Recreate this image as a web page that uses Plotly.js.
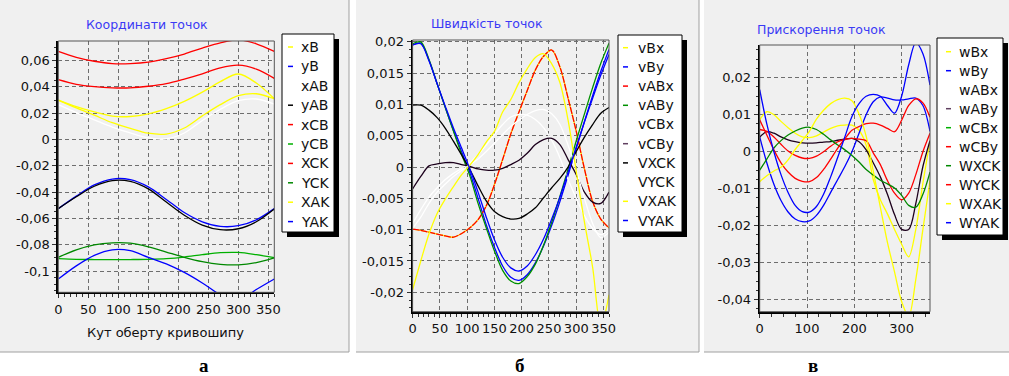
<!DOCTYPE html>
<html><head><meta charset="utf-8">
<script src="https://cdn.plot.ly/plotly-3.0.1.min.js"></script>
<style>html,body{margin:0;padding:0;background:#fff;} #chart{width:1009px;height:376px;}</style>
</head><body><div id="chart"></div>
<script>
// ---------- DATA ----------
const angA = [0,30,60,90,120,150,180,210,240,270,300,330,360];
const angBC = [0,15,30,45,60,75,90,105,120,135,150,165,180,195,210,225,240,255,270,285,300,315,330,345,360];

// Panel а: coordinates
const xB  = [0.030,0.024,0.0185,0.0128,0.0085,0.0048,0.0042,0.0088,0.018,0.0265,0.0333,0.0348,0.031];
const yB  = [-0.0525,-0.043,-0.0345,-0.0300,-0.0305,-0.036,-0.0455,-0.0555,-0.0625,-0.066,-0.0655,-0.061,-0.0525];
const xAB = [0.0265,0.0205,0.015,0.0095,0.005,0.0012,0.0006,0.005,0.0145,0.023,0.0295,0.0308,0.027];
const yAB = [-0.0525,-0.0435,-0.0355,-0.0312,-0.0318,-0.0375,-0.0475,-0.0575,-0.065,-0.0685,-0.0678,-0.0625,-0.0528];
const xCB = [0.0455,0.042,0.0402,0.0393,0.0393,0.0405,0.0425,0.046,0.050,0.0545,0.0565,0.0535,0.0465];
const yCB = [-0.0905,-0.0910,-0.0912,-0.0913,-0.0912,-0.0910,-0.0905,-0.0893,-0.0875,-0.0860,-0.0858,-0.0875,-0.0898];
const XCK = [0.067,0.0625,0.0595,0.0577,0.0577,0.0588,0.0615,0.065,0.0695,0.0735,0.0758,0.0728,0.067];
const YCK = [-0.0895,-0.0838,-0.0800,-0.0785,-0.0788,-0.0815,-0.0855,-0.0895,-0.0928,-0.0948,-0.0952,-0.0935,-0.0900];
const XAK = [0.030,0.025,0.021,0.0178,0.0175,0.0195,0.0235,0.029,0.036,0.044,0.0498,0.043,0.031];
const YAK = [-0.106,-0.096,-0.088,-0.0838,-0.0845,-0.0895,-0.0945,-0.101,-0.109,-0.118,-0.1225,-0.114,-0.106];

// Panel б: velocities
const vBx  = [-0.0099,-0.0101,-0.0104,-0.0107,-0.0110,-0.0112,-0.0106,-0.0097,-0.0084,-0.0062,-0.0028,0.0012,0.0053,0.0088,0.0122,0.0155,0.0177,0.0187,0.0160,0.0110,0.0057,-0.0003,-0.0055,-0.0083,-0.0097];
const vBy  = [0.0195,0.0198,0.0171,0.0133,0.0095,0.0058,0.0024,-0.0009,-0.0050,-0.0092,-0.0128,-0.0158,-0.0176,-0.0181,-0.0172,-0.0153,-0.0126,-0.0093,-0.0055,-0.0013,0.0030,0.0073,0.0114,0.0153,0.0188];
const vABx = [-0.0099,-0.0101,-0.0104,-0.0107,-0.0110,-0.0112,-0.0106,-0.0097,-0.0084,-0.0062,-0.0028,0.0012,0.0053,0.0088,0.0122,0.0155,0.0177,0.0187,0.0160,0.0110,0.0057,-0.0003,-0.0055,-0.0083,-0.0097];
const vABy = [0.0197,0.0200,0.0172,0.0133,0.0095,0.0057,0.0020,-0.0014,-0.0058,-0.0097,-0.0134,-0.0165,-0.0182,-0.0186,-0.0175,-0.0155,-0.0125,-0.0088,-0.0047,-0.0003,0.0042,0.0085,0.0127,0.0166,0.0198];
const vCBx = [-0.0090,-0.0068,-0.0048,-0.0033,-0.0020,-0.0010,-0.0002,0.0007,0.0020,0.0035,0.0052,0.0068,0.0080,0.0084,0.0083,0.0076,0.0063,0.0043,0.0015,-0.0020,-0.0050,-0.0078,-0.0098,-0.0108,-0.0100];
const vCBy = [-0.0035,-0.0015,0.0002,0.0005,0.0007,0.0007,0.0004,0.0001,-0.0003,-0.0005,-0.0005,-0.0002,0.0004,0.0011,0.0022,0.0036,0.0044,0.0046,0.0036,0.0012,-0.0012,-0.0040,-0.0056,-0.0058,-0.0040];
const VXCK = [0.0099,0.0099,0.0091,0.0079,0.0062,0.0041,0.0019,-0.0004,-0.0030,-0.0054,-0.0071,-0.0079,-0.0083,-0.0082,-0.0075,-0.0065,-0.0049,-0.0033,-0.0018,0.0000,0.0025,0.0048,0.0068,0.0086,0.0095];
const VYCK = [-0.0098,-0.0080,-0.0058,-0.0040,-0.0027,-0.0015,-0.0005,0.0004,0.0013,0.0025,0.0038,0.0052,0.0065,0.0075,0.0084,0.0090,0.0092,0.0085,0.0068,0.0035,-0.0005,-0.0050,-0.0090,-0.0113,-0.0104];
const VXAK = [-0.0196,-0.0150,-0.0107,-0.0074,-0.0051,-0.0031,-0.0012,0.0003,0.0020,0.0040,0.0057,0.0088,0.0108,0.0135,0.0157,0.0175,0.0181,0.0165,0.0135,0.0075,-0.0007,-0.0088,-0.0160,-0.0255,-0.0204];
const VYAK = [0.0195,0.0197,0.0170,0.0133,0.0097,0.0062,0.0030,-0.0003,-0.0040,-0.0080,-0.0116,-0.0144,-0.0161,-0.0166,-0.0158,-0.0140,-0.0115,-0.0083,-0.0048,-0.0008,0.0032,0.0072,0.0110,0.0147,0.0180];

// Panel в: accelerations
const wBx  = [0.0086,0.0108,0.0100,0.0082,0.0065,0.0050,0.0040,0.0038,0.0043,0.0053,0.0063,0.0070,0.0072,0.0072,0.0058,0.0018,-0.0075,-0.0130,-0.0168,-0.0210,-0.0250,-0.0284,-0.0210,-0.0085,0.0030];
const wBy  = [0.0040,-0.0030,-0.0088,-0.0132,-0.0163,-0.0182,-0.0189,-0.0187,-0.0172,-0.0145,-0.0110,-0.0075,-0.0040,0.0000,0.0050,0.0100,0.0135,0.0148,0.0145,0.0140,0.0140,0.0143,0.0145,0.0125,0.0055];
const wABx = [];
const wABy = [0.0040,0.0054,0.0050,0.0040,0.0032,0.0027,0.0024,0.0023,0.0024,0.0026,0.0027,0.0031,0.0034,0.0036,0.0027,0.0005,-0.0030,-0.0068,-0.0115,-0.0170,-0.0210,-0.0210,-0.0140,-0.0040,0.0030];
const wCBx = [];
const wCBy = [0.0060,0.0055,0.0040,0.0020,0.0002,-0.0010,-0.0017,-0.0018,-0.0012,0.0000,0.0015,0.0027,0.0033,0.0036,0.0034,0.0030,-0.0003,-0.0035,-0.0078,-0.0112,-0.0130,-0.0112,-0.0062,0.0000,0.0050];
const WXCK = [-0.0050,-0.0020,0.0010,0.0030,0.0045,0.0056,0.0064,0.0066,0.0060,0.0047,0.0032,0.0018,0.0005,-0.0010,-0.0028,-0.0048,-0.0063,-0.0077,-0.0087,-0.0098,-0.0118,-0.0145,-0.0150,-0.0115,-0.0055];
const WYCK = [0.0086,0.0045,0.0005,-0.0030,-0.0055,-0.0072,-0.0080,-0.0081,-0.0070,-0.0048,-0.0020,0.0010,0.0035,0.0058,0.0068,0.0076,0.0077,0.0072,0.0063,0.0054,0.0085,0.0125,0.0143,0.0132,0.0093];
const WXAK = [-0.0081,-0.0065,-0.0052,-0.0042,-0.0022,0.0006,0.0030,0.0055,0.0088,0.0112,0.0130,0.0141,0.0145,0.0138,0.0102,0.0042,-0.0052,-0.0150,-0.0245,-0.0325,-0.0405,-0.0445,-0.0345,-0.0210,-0.0078];
const WYAK = [0.0168,0.0075,0.0000,-0.0062,-0.0110,-0.0145,-0.0162,-0.0163,-0.0148,-0.0115,-0.0068,-0.0015,0.0040,0.0095,0.0130,0.0150,0.0155,0.0150,0.0125,0.0104,0.0150,0.0235,0.0295,0.0265,0.0180];

// Tick labels
const xTicksAB = [0,50,100,150,200,250,300,350];
const xLabelsAB = ['0','50','100','150','200','250','300','350'];
const xTicksC = [0,100,200,300];
const xLabelsC = ['0','100','200','300'];
const yTicksA = [0.06,0.04,0.02,0,-0.02,-0.04,-0.06,-0.08,-0.1];
const yLabelsA = ['0,06','0,04','0,02','0','-0,02','-0,04','-0,06','-0,08','-0,1'];
const yTicksB = [0.02,0.015,0.01,0.005,0,-0.005,-0.01,-0.015,-0.02];
const yLabelsB = ['0,02','0,015','0,01','0,005','0','-0,005','-0,01','-0,015','-0,02'];
const yTicksC = [0.02,0.01,0,-0.01,-0.02,-0.03,-0.04];
const yLabelsC = ['0,02','0,01','0','-0,01','-0,02','-0,03','-0,04'];

// Texts
const titleA = 'Координати точок';
const titleB = 'Швидкість точок';
const titleC = 'Прискорення точок';
const xTitleA = 'Кут оберту кривошипу';
const panelLetters = ['а','б','в'];

// ---------- STYLE ----------
const YEL='#ffff00', BLU='#0000ff', WHT='#ffffff', BLK='#000000', RED='#ff0000',
      GRN='#00b000', DGRN='#008800', PUR='#1c001c';
const FONT = 'DejaVu Sans, Verdana, sans-serif';

const seriesA = [
  {name:'xB', y:xB, color:YEL}, {name:'yB', y:yB, color:BLU}, {name:'xAB', y:xAB, color:WHT},
  {name:'yAB', y:yAB, color:BLK}, {name:'xCB', y:xCB, color:RED}, {name:'yCB', y:yCB, color:GRN},
  {name:'XCK', y:XCK, color:RED}, {name:'YCK', y:YCK, color:DGRN}, {name:'XAK', y:XAK, color:YEL},
  {name:'YAK', y:YAK, color:BLU}];
const seriesB = [
  {name:'vBx', y:vBx, color:YEL}, {name:'vBy', y:vBy, color:BLU}, {name:'vABx', y:vABx, color:RED, dash:'7px,1px'},
  {name:'vABy', y:vABy, color:'#009000'}, {name:'vCBx', y:vCBx, color:WHT}, {name:'vCBy', y:vCBy, color:PUR, legendColor:'#604060'},
  {name:'VXCK', y:VXCK, color:BLK}, {name:'VYCK', y:VYCK, color:WHT}, {name:'VXAK', y:VXAK, color:YEL},
  {name:'VYAK', y:VYAK, color:BLU}];
const seriesC = [
  {name:'wBx', y:wBx, color:YEL}, {name:'wBy', y:wBy, color:BLU}, {name:'wABx', y:wABx, color:WHT},
  {name:'wABy', y:wABy, color:PUR, legendColor:'#604060'}, {name:'wCBx', y:wCBx, color:GRN}, {name:'wCBy', y:wCBy, color:RED},
  {name:'WXCK', y:WXCK, color:DGRN}, {name:'WYCK', y:WYCK, color:RED}, {name:'WXAK', y:WXAK, color:YEL},
  {name:'WYAK', y:WYAK, color:BLU}];

const W = 1009, H = 376;
const fx = p => p / W;
const fy = p => 1 - p / H;

const panels = [
  {ax:'', xs:angA, series:seriesA, box:[58.3,274.3,41,292.3], xr:[0,360], yr:[-0.1161,0.0749],
   xt:xTicksAB, xl:xLabelsAB, yt:yTicksA, yl:yLabelsA, xMinor:10, yMinor:0.005,
   bg:[0,349,0,352], rightBorder:true,
   title:titleA, titlePos:[146.5,25], letter:panelLetters[0], letterPos:[204,365],
   leg:{box:[282,334,34,232], y0:47, step:19.4, d0:288, d1:293, tx:299}},
  {ax:'2', xs:angBC, series:seriesB, box:[412.6,609,40,311.7], xr:[0,360], yr:[-0.0231,0.0203],
   xt:xTicksAB, xl:xLabelsAB, yt:yTicksB, yl:yLabelsB, xMinor:10, yMinor:0.00125,
   bg:[356,699,0,352], rightBorder:true,
   title:titleB, titlePos:[486.5,24], letter:panelLetters[1], letterPos:[520,365],
   leg:{box:[618,682,35,232], y0:47.7, step:19.2, d0:623, d1:628, tx:636}},
  {ax:'3', xs:angBC, series:seriesC, box:[759.7,930,45,311.7], xr:[0,360], yr:[-0.04324,0.02884],
   xt:xTicksC, xl:xLabelsC, yt:yTicksC, yl:yLabelsC, xMinor:25, yMinor:0.0025,
   bg:[704,1009,0,352], rightBorder:false,
   title:titleC, titlePos:[821,29], letter:panelLetters[2], letterPos:[813,365],
   leg:{box:[937,1003,38,235], y0:51.7, step:19.0, d0:946, d1:951, tx:957}}
];

const traces = [];
const shapes = [];
const annotations = [];
const layout = {
  width: W, height: H, margin:{l:0,r:0,t:0,b:0,pad:0}, autosize:false,
  paper_bgcolor:'#ffffff', plot_bgcolor:'#f0f0f0', showlegend:false, hovermode:false,
  font:{family:FONT, size:13, color:'#111'}
};

panels.forEach(p => {
  const [L,R,T,B] = p.box;
  shapes.push({type:'rect', xref:'paper', yref:'paper', x0:fx(p.bg[0]), x1:fx(p.bg[1]), y0:fy(p.bg[3]), y1:fy(p.bg[2]),
    fillcolor:'#f0f0f0', line:{width:0}, layer:'below'});
  shapes.push({type:'line', xref:'paper', yref:'paper', x0:fx(p.bg[0]), x1:fx(p.bg[1]), y0:fy(p.bg[3]), y1:fy(p.bg[3]),
    line:{color:'#a0a0a0', width:1}, layer:'below'});
  if (p.rightBorder) shapes.push({type:'line', xref:'paper', yref:'paper', x0:fx(p.bg[1]), x1:fx(p.bg[1]), y0:fy(p.bg[3]), y1:fy(p.bg[2]),
    line:{color:'#a0a0a0', width:1}, layer:'below'});

  const common = {
    ticks:'outside', ticklen:4, tickwidth:1, tickcolor:'#333',
    showline:true, linecolor:'#000', linewidth:2,
    showgrid:true, gridcolor:'#6e6e6e', gridwidth:1, griddash:'4px,3px',
    zeroline:false, fixedrange:true, tickmode:'array',
    tickfont:{family:FONT, size:13, color:'#111'}
  };
  layout['xaxis'+p.ax] = Object.assign({}, common, {
    domain:[fx(L), fx(R)], range:p.xr, anchor:'y'+p.ax, tickvals:p.xt, ticktext:p.xl,
    minor:{ticks:'outside', ticklen:3, tickcolor:'#333', tickmode:'linear', tick0:0, dtick:p.xMinor, showgrid:false}
  });
  layout['yaxis'+p.ax] = Object.assign({}, common, {
    domain:[fy(B), fy(T)], range:p.yr, anchor:'x'+p.ax, tickvals:p.yt, ticktext:p.yl,
    minor:{ticks:'outside', ticklen:2, tickcolor:'#333', tickmode:'linear', tick0:0, dtick:p.yMinor, showgrid:false}
  });
  shapes.push({type:'rect', xref:'paper', yref:'paper', x0:fx(L), x1:fx(R), y0:fy(B), y1:fy(T),
    line:{color:'#555', width:1}, fillcolor:'rgba(0,0,0,0)', layer:'above'});

  p.series.forEach(s => {
    if (!s.y.length) return;
    traces.push({type:'scatter', mode:'lines', x:p.xs, y:s.y, name:s.name,
      xaxis:'x'+p.ax, yaxis:'y'+p.ax, hoverinfo:'skip',
      line:{color:s.color, width:1.3, shape:'spline', smoothing:0.9, dash:s.dash || 'solid'}});
  });

  const lg = p.leg;
  const [bl,br,bt,bb] = lg.box;
  shapes.push({type:'rect', xref:'paper', yref:'paper', x0:fx(bl+5), x1:fx(br+5), y0:fy(bb+5), y1:fy(bt+5),
    fillcolor:'#000', line:{width:0}, layer:'above'});
  shapes.push({type:'rect', xref:'paper', yref:'paper', x0:fx(bl), x1:fx(br), y0:fy(bb), y1:fy(bt),
    fillcolor:'#fff', line:{color:'#000', width:1}, layer:'above'});
  p.series.forEach((s,i) => {
    const yy = lg.y0 + i*lg.step;
    shapes.push({type:'line', xref:'paper', yref:'paper', x0:fx(lg.d0), x1:fx(lg.d1), y0:fy(yy), y1:fy(yy),
      line:{color:s.legendColor || s.color, width:1.5}, layer:'above'});
    annotations.push({xref:'paper', yref:'paper', x:fx(lg.tx), y:fy(yy), xanchor:'left', yanchor:'middle',
      text:s.name, showarrow:false, font:{family:FONT, size:14, color:'#111'}});
  });

  annotations.push({xref:'paper', yref:'paper', x:fx(p.titlePos[0]), y:fy(p.titlePos[1]), xanchor:'center', yanchor:'middle',
    text:p.title, showarrow:false, font:{family:FONT, size:12.5, color:'#3a3af5'}});
  annotations.push({xref:'paper', yref:'paper', x:fx(p.letterPos[0]), y:fy(p.letterPos[1]), xanchor:'center', yanchor:'middle',
    text:'<b>'+p.letter+'</b>', showarrow:false, font:{family:'Liberation Serif, Times New Roman, serif', size:19, color:'#000'}});
});

annotations.push({xref:'paper', yref:'paper', x:fx(165.5), y:fy(332), xanchor:'center', yanchor:'middle',
  text:xTitleA, showarrow:false, font:{family:FONT, size:13, color:'#111'}});

layout.shapes = shapes;
layout.annotations = annotations;

Plotly.newPlot('chart', traces, layout, {staticPlot:true, displayModeBar:false});
</script></body></html>
